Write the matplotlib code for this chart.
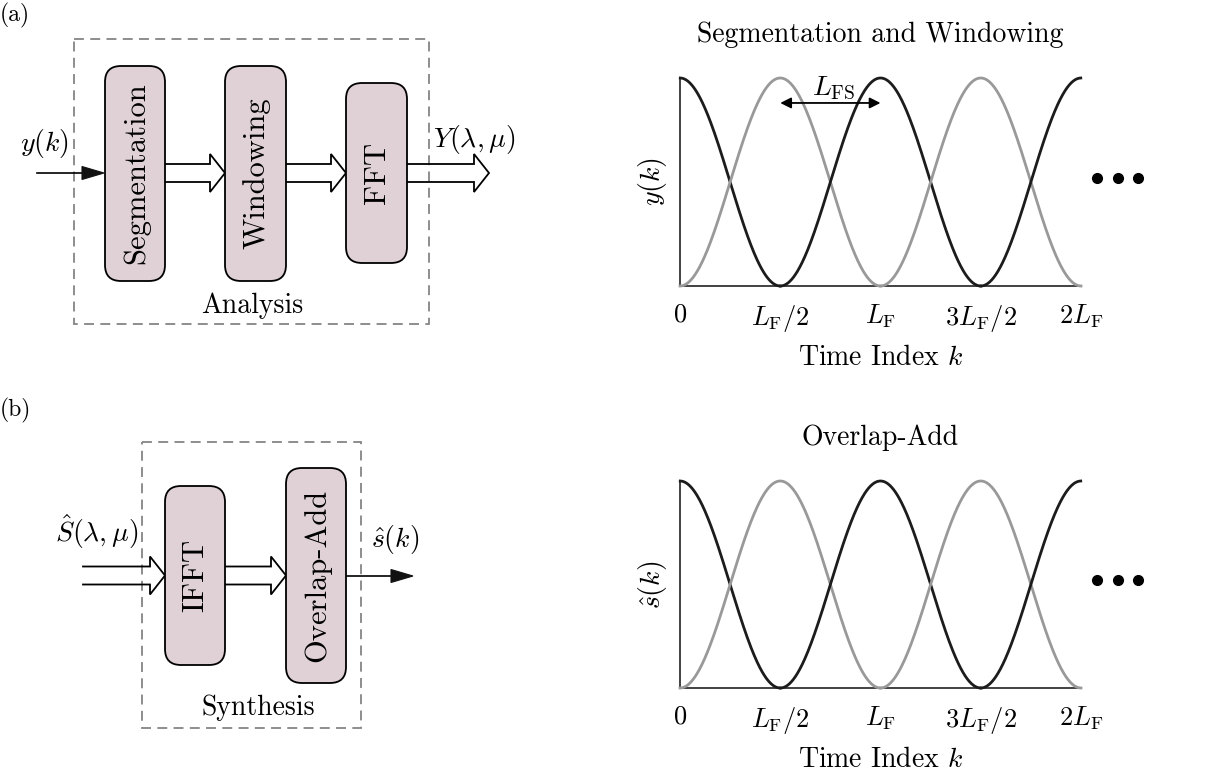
import numpy as np
import matplotlib
matplotlib.use("Agg")
import matplotlib.pyplot as plt
import matplotlib.patches as patches

plt.rcParams['font.family'] = 'serif'
plt.rcParams['font.serif'] = ['cmr10']
plt.rcParams['mathtext.fontset'] = 'cm'
plt.rcParams['axes.unicode_minus'] = False

# --- window layout (x in units of L_F) ---
frame_len = 1.0
frame_shift = 0.5
frame_starts = [-0.5, 0.0, 0.5, 1.0, 1.5]
frame_colors = ['#1c1c1c', '#999999', '#1c1c1c', '#999999', '#1c1c1c']
tick_pos = [0, 0.5, 1.0, 1.5, 2.0]
tick_labels = ['$0$', r'$L_{\mathrm{F}}/2$', r'$L_{\mathrm{F}}$',
               r'$3L_{\mathrm{F}}/2$', r'$2L_{\mathrm{F}}$']

BOX_FILL = '#dfd1d6'
DASH = '#858585'
FS = 20
FS_BLOCK = 22

fig = plt.figure(figsize=(12.08, 7.71), dpi=100)

# overlay in pixel coordinates for the block diagrams
dg = fig.add_axes([0, 0, 1, 1])
dg.set_xlim(0, 1208)
dg.set_ylim(771, 0)
dg.axis('off')


def block(x0, y0, x1, y1, label):
    b = patches.FancyBboxPatch((x0, y0), x1 - x0, y1 - y0,
                               boxstyle='round,pad=0,rounding_size=16',
                               fc=BOX_FILL, ec='black', lw=1.3, zorder=3)
    dg.add_patch(b)
    dg.text((x0 + x1) / 2 + 1, (y0 + y1) / 2, label, rotation=90, fontsize=FS_BLOCK,
            ha='center', va='center', zorder=4)


def dashed_frame(x0, y0, x1, y1):
    r = patches.Rectangle((x0, y0), x1 - x0, y1 - y0, fill=False, ec=DASH,
                          lw=1.3, ls=(0, (5.5, 3.5)), zorder=1)
    dg.add_patch(r)


def hollow_arrow(x0, x1, y, hw=9, hh=19, hl=15):
    xh = x1 - hl
    xs = [x0, xh, xh, x1, xh, xh, x0]
    ys = [y - hw, y - hw, y - hh, y, y + hh, y + hw, y + hw]
    dg.plot(xs, ys, color='black', lw=1.3, solid_joinstyle='miter', zorder=2)


def solid_arrow(x0, x1, y, hl=22, hh=6.5):
    dg.plot([x0, x1 - hl], [y, y], color='black', lw=1.2, zorder=2)
    head = patches.Polygon([[x1 - hl, y - hh], [x1, y], [x1 - hl, y + hh]],
                           closed=True, fc='#111111', ec='#111111', lw=0.8, zorder=2)
    dg.add_patch(head)


# (a) analysis chain
dg.text(0, 15, '(a)', fontsize=17, ha='left', va='center')
dashed_frame(74, 39, 429, 324)
block(105, 66, 165, 281, 'Segmentation')
block(225, 66, 286, 281, 'Windowing')
block(346, 83, 407, 263, 'FFT')
solid_arrow(37, 104, 173)
hollow_arrow(165, 225, 173)
hollow_arrow(286, 346, 173)
hollow_arrow(407, 489, 173)
dg.text(44, 143, '$y(k)$', fontsize=FS, ha='center', va='center')
dg.text(474, 139, r'$Y(\lambda,\mu)$', fontsize=FS, ha='center', va='center')
dg.text(252, 306, 'Analysis', fontsize=FS, ha='center', va='center')

# (b) synthesis chain
dg.text(0, 410, '(b)', fontsize=17, ha='left', va='center')
dashed_frame(142, 442, 361, 728)
block(165, 486, 225, 665, 'IFFT')
block(286, 468, 346, 683, 'Overlap-Add')
hollow_arrow(83, 165, 575.5)
hollow_arrow(225, 286, 575.5)
solid_arrow(346, 413, 576)
dg.text(97, 532, r'$\hat{S}(\lambda,\mu)$', fontsize=FS, ha='center', va='center')
dg.text(395, 540, r'$\hat{s}(k)$', fontsize=FS, ha='center', va='center')
dg.text(258, 708, 'Synthesis', fontsize=FS, ha='center', va='center')


def window_plot(rect, title, ylabel):
    ax = fig.add_axes(rect)
    n = 400
    for start, col in zip(frame_starts, frame_colors):
        t = start + np.linspace(0, frame_len, n)
        w = np.hanning(n)
        keep = (t >= 0) & (t <= 2.0)
        ax.plot(t[keep], w[keep], color=col, lw=2.0, clip_on=False, zorder=3)
    ax.set_xlim(0, 2.0)
    ax.set_ylim(0, 1.0)
    for s in ['top', 'right']:
        ax.spines[s].set_visible(False)
    for s in ['left', 'bottom']:
        ax.spines[s].set_color('#333333')
        ax.spines[s].set_linewidth(1.3)
    ax.set_xticks(tick_pos)
    ax.set_xticklabels(tick_labels, fontsize=19)
    ax.set_yticks([])
    ax.tick_params(axis='x', length=0, pad=12)
    ax.set_title(title, fontsize=FS, pad=26)
    ax.set_ylabel(ylabel, fontsize=FS, labelpad=8)
    ax.set_xlabel(r'Time Index $k$', fontsize=FS, labelpad=8)
    ax.plot([1.04, 1.092, 1.142], [0.52, 0.52, 0.52], 'o', color='black', ms=7,
            transform=ax.transAxes, clip_on=False)
    return ax


ax1 = window_plot([680 / 1208, 1 - 286 / 771, 401 / 1208, 208 / 771],
                  'Segmentation and Windowing', '$y(k)$')
ax1.annotate('', xy=(frame_len, 0.88), xytext=(frame_shift, 0.88),
             arrowprops=dict(arrowstyle='<|-|>', color='black', lw=1.3,
                             mutation_scale=16, shrinkA=0, shrinkB=0), zorder=4)
ax1.text(0.765, 0.95, r'$L_{\mathrm{FS}}$', fontsize=FS, ha='center', va='center')

ax2 = window_plot([680 / 1208, 1 - 688 / 771, 401 / 1208, 207 / 771],
                  'Overlap-Add', r'$\hat{s}(k)$')

fig.savefig('out.png', dpi=100)
